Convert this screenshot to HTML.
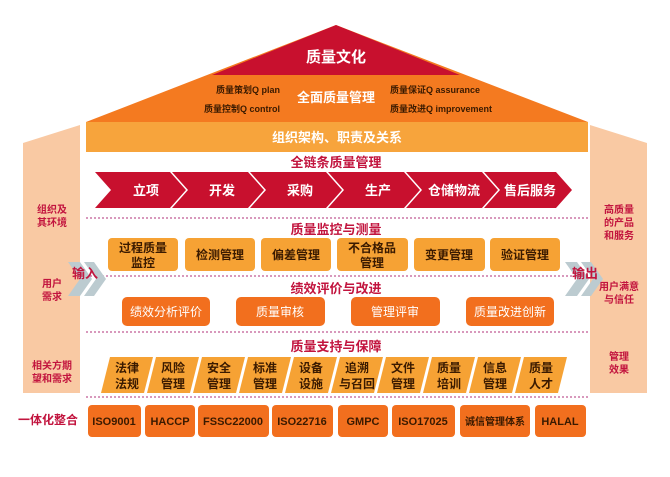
<!DOCTYPE html>
<html><head><meta charset="utf-8"><style>
body{margin:0;background:#fff}
svg text{font-family:"Liberation Sans","Noto Sans CJK SC",sans-serif;font-weight:bold}
svg text.n{font-weight:normal}
</style></head><body>
<svg width="670" height="472" viewBox="0 0 670 472" xmlns="http://www.w3.org/2000/svg">
<rect width="670" height="472" fill="#fff"/>
<polygon points="23,143 80,125 80,393 23,393" fill="#f9c9a3"/>
<polygon points="590,125 647,143 647,393 590,393" fill="#f9c9a3"/>
<polygon points="336,25 86,122 588,122" fill="#f47a20"/>
<polygon points="336,25 212,75 460,75" fill="#c8102e"/>
<rect x="86" y="122" width="502" height="30" fill="#f7a43c"/>
<text x="336" y="62" font-size="15" fill="#fff" text-anchor="middle">质量文化</text>
<text x="336" y="102" font-size="13" fill="#fff" text-anchor="middle">全面质量管理</text>
<g font-size="9" fill="#3a1a00">
<text x="280" y="93" text-anchor="end">质量策划Q plan</text>
<text x="280" y="112" text-anchor="end">质量控制Q control</text>
<text x="390" y="93">质量保证Q assurance</text>
<text x="390" y="112">质量改进Q improvement</text>
</g>
<text x="337" y="142" font-size="13" fill="#fff" text-anchor="middle">组织架构、职责及关系</text>
<g font-size="13" fill="#c2143e" text-anchor="middle">
<text x="336" y="167">全链条质量管理</text>
<text x="336" y="234">质量监控与测量</text>
<text x="336" y="293">绩效评价与改进</text>
<text x="336" y="351">质量支持与保障</text>
</g>
<g fill="#c8102e">
<polygon points="95,172 170,172 186,190 170,208 95,208 111,190"/>
<polygon points="172,172 248,172 264,190 248,208 172,208 188,190"/>
<polygon points="250,172 326,172 342,190 326,208 250,208 266,190"/>
<polygon points="328,172 404,172 420,190 404,208 328,208 344,190"/>
<polygon points="406,172 482,172 498,190 482,208 406,208 422,190"/>
<polygon points="484,172 556,172 572,190 556,208 484,208 500,190"/>
</g>
<g font-size="13" fill="#fff" text-anchor="middle">
<text x="146" y="195">立项</text><text x="222" y="195">开发</text><text x="300" y="195">采购</text>
<text x="378" y="195">生产</text><text x="454" y="195">仓储物流</text><text x="530" y="195">售后服务</text>
</g>
<g stroke="#b0307a" stroke-width="1" stroke-dasharray="2,2">
<line x1="86" y1="218" x2="588" y2="218"/><line x1="86" y1="276" x2="588" y2="276"/>
<line x1="86" y1="332" x2="588" y2="332"/><line x1="86" y1="397" x2="588" y2="397"/>
</g>
<g fill="#f6a234">
<rect x="108" y="238" width="70" height="33" rx="4"/><rect x="185" y="238" width="70" height="33" rx="4"/>
<rect x="261" y="238" width="70" height="33" rx="4"/><rect x="337" y="238" width="71" height="33" rx="4"/>
<rect x="414" y="238" width="71" height="33" rx="4"/><rect x="490" y="238" width="70" height="33" rx="4"/>
</g>
<g font-size="12" fill="#3a1a00" text-anchor="middle">
<text x="143" y="252">过程质量</text><text x="143" y="267">监控</text>
<text x="220" y="259">检测管理</text><text x="296" y="259">偏差管理</text>
<text x="372" y="252">不合格品</text><text x="372" y="267">管理</text>
<text x="449" y="259">变更管理</text><text x="525" y="259">验证管理</text>
</g>
<g fill="#bccbd0">
<polygon points="68,262 80,262 92,279 80,296 68,296 80,279"/>
<polygon points="84,262 94,262 106,279 94,296 84,296 96,279"/>
<polygon points="565,262 577,262 589,279 577,296 565,296 577,279"/>
<polygon points="581,262 591,262 603,279 591,296 581,296 593,279"/>
</g>
<text x="72" y="278" font-size="13" fill="#c2143e">输入</text>
<text x="572" y="278" font-size="13" fill="#c2143e">输出</text>
<g fill="#f26f1e">
<rect x="122" y="297" width="88" height="29" rx="5"/><rect x="236" y="297" width="89" height="29" rx="5"/>
<rect x="351" y="297" width="89" height="29" rx="5"/><rect x="466" y="297" width="88" height="29" rx="5"/>
</g>
<g font-size="12" fill="#fff" text-anchor="middle">
<text class="n" x="166" y="316">绩效分析评价</text><text class="n" x="280" y="316">质量审核</text>
<text class="n" x="395" y="316">管理评审</text><text class="n" x="510" y="316">质量改进创新</text>
</g>
<g fill="#f6a234">
<polygon points="110,357 153,357 144,393 101,393"/><polygon points="156,357 199,357 190,393 147,393"/>
<polygon points="202,357 245,357 236,393 193,393"/><polygon points="248,357 291,357 282,393 239,393"/>
<polygon points="294,357 337,357 328,393 285,393"/><polygon points="340,357 383,357 374,393 331,393"/>
<polygon points="386,357 429,357 420,393 377,393"/><polygon points="432,357 475,357 466,393 423,393"/>
<polygon points="478,357 521,357 512,393 469,393"/><polygon points="524,357 567,357 558,393 515,393"/>
</g>
<g font-size="12" fill="#3a1a00" text-anchor="middle">
<text x="127" y="372">法律</text><text x="127" y="388">法规</text>
<text x="173" y="372">风险</text><text x="173" y="388">管理</text>
<text x="219" y="372">安全</text><text x="219" y="388">管理</text>
<text x="265" y="372">标准</text><text x="265" y="388">管理</text>
<text x="311" y="372">设备</text><text x="311" y="388">设施</text>
<text x="357" y="372">追溯</text><text x="357" y="388">与召回</text>
<text x="403" y="372">文件</text><text x="403" y="388">管理</text>
<text x="449" y="372">质量</text><text x="449" y="388">培训</text>
<text x="495" y="372">信息</text><text x="495" y="388">管理</text>
<text x="541" y="372">质量</text><text x="541" y="388">人才</text>
</g>
<text x="18" y="424" font-size="12" fill="#c2143e">一体化整合</text>
<g fill="#f26f1e">
<rect x="88" y="405" width="53" height="32" rx="4"/><rect x="145" y="405" width="50" height="32" rx="4"/>
<rect x="198" y="405" width="71" height="32" rx="4"/><rect x="272" y="405" width="61" height="32" rx="4"/>
<rect x="338" y="405" width="50" height="32" rx="4"/><rect x="392" y="405" width="63" height="32" rx="4"/>
<rect x="460" y="405" width="70" height="32" rx="4"/><rect x="535" y="405" width="51" height="32" rx="4"/>
</g>
<g font-size="11" fill="#3a1a00" text-anchor="middle">
<text x="114" y="425">ISO9001</text><text x="170" y="425">HACCP</text><text x="233" y="425">FSSC22000</text>
<text x="302" y="425">ISO22716</text><text x="363" y="425">GMPC</text><text x="423" y="425">ISO17025</text>
<text x="495" y="425" font-size="10">诚信管理体系</text><text x="560" y="425">HALAL</text>
</g>
<g font-size="10" fill="#c2143e" text-anchor="middle">
<text x="52" y="213">组织及</text><text x="52" y="226">其环境</text>
<text x="52" y="287">用户</text><text x="52" y="300">需求</text>
<text x="52" y="369">相关方期</text><text x="52" y="382">望和需求</text>
<text x="619" y="213">高质量</text><text x="619" y="226">的产品</text><text x="619" y="239">和服务</text>
<text x="619" y="290">用户满意</text><text x="619" y="303">与信任</text>
<text x="619" y="360">管理</text><text x="619" y="373">效果</text>
</g>
</svg>
</body></html>
